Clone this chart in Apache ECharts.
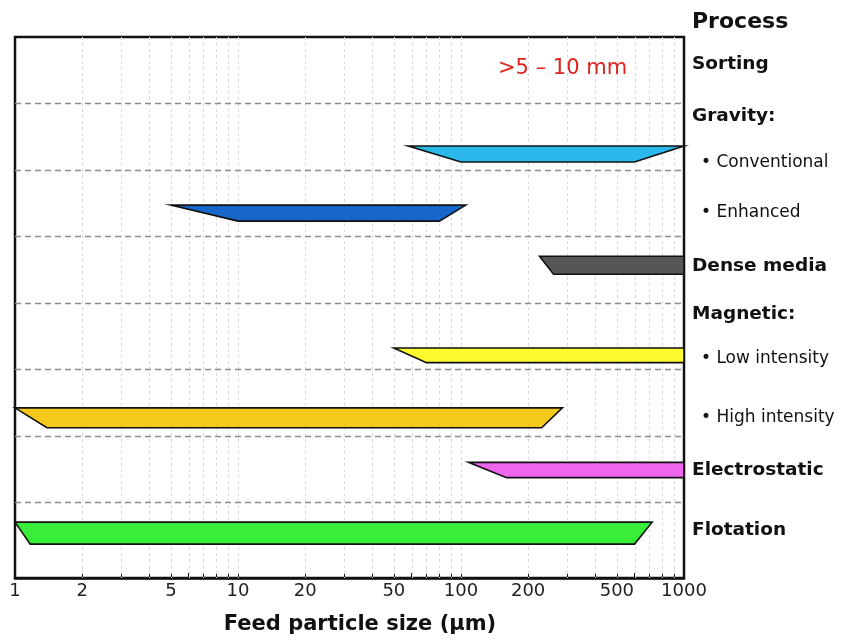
<!DOCTYPE html>
<html>
<head>
<meta charset="utf-8">
<script src="https://cdn.jsdelivr.net/npm/echarts@6/dist/echarts.min.js"></script>
<style>
  html, body { margin: 0; padding: 0; background: #fff; }
  #main { width: 844px; height: 640px; }
</style>
</head>
<body>
<div id="main"></div>
<script>
var FONT = '"DejaVu Sans", Arial, sans-serif';

// x axis (feed particle size, µm)
var xLabels = [1, 2, 5, 10, 20, 50, 100, 200, 500, 1000];
var xTicks = [1, 2, 3, 4, 5, 6, 7, 8, 9, 10, 20, 30, 40, 50, 60, 70, 80, 90,
  100, 200, 300, 400, 500, 600, 700, 800, 900, 1000];
var xGrid = [2, 3, 4, 5, 6, 7, 8, 9, 10, 20, 30, 40, 50, 60, 70, 80, 90,
  100, 200, 300, 400, 500, 600, 700, 800, 900];

// process rows (right hand labels), y in row units from the top
var rowNames = ['Sorting', 'Gravity:', 'Conventional', 'Enhanced', 'Dense media',
  'Magnetic:', 'Low intensity', 'High intensity', 'Electrostatic', 'Flotation'];
var rowBold = [true, true, false, false, true, true, false, false, true, true];
var rowPos = [0.41, 1.185, 1.885, 2.645, 3.445, 4.165, 4.835, 5.725, 6.525, 7.425];
var rowSeparators = [1, 2, 3, 4, 5, 6, 7];

// size range bars: top edge from/to, bottom edge from/to (µm)
var barNames = ['Conventional', 'Enhanced', 'Dense media', 'Low intensity',
  'High intensity', 'Electrostatic', 'Flotation'];
var topFrom = [58, 5, 225, 50, 1, 108, 1];
var topTo = [1000, 105, 1000, 1000, 285, 1000, 720];
var bottomFrom = [100, 10, 260, 70, 1.39, 160, 1.17];
var bottomTo = [600, 80, 1000, 1000, 230, 1000, 600];
var barTop = [1.64, 2.53, 3.3, 4.68, 5.58, 6.4, 7.3];
var barBottom = [1.88, 2.77, 3.57, 4.9, 5.88, 6.63, 7.63];
var barColors = ['#2bb8ea', '#1766c9', '#565656', '#fbfb2e', '#f5c91c', '#ee66ee', '#38ee38'];

var Y_MAX = 8.14;

var chart = echarts.init(document.getElementById('main'));

var barData = barNames.map(function (n, i) {
  return [topFrom[i], topTo[i], bottomFrom[i], bottomTo[i], barTop[i], barBottom[i]];
});

function renderBar(params, api) {
  var t0 = api.coord([api.value(0), api.value(4)]);
  var t1 = api.coord([api.value(1), api.value(4)]);
  var b0 = api.coord([api.value(2), api.value(5)]);
  var b1 = api.coord([api.value(3), api.value(5)]);
  return {
    type: 'polygon',
    shape: { points: [t0, t1, b1, b0] },
    style: {
      fill: barColors[params.dataIndex],
      stroke: '#111',
      lineWidth: 1.6
    }
  };
}

// light vertical grid at the log minor ticks
function renderVLine(params, api) {
  var p0 = api.coord([api.value(0), 0]);
  var p1 = api.coord([api.value(0), Y_MAX]);
  return {
    type: 'line',
    shape: { x1: Math.round(p0[0]) + 0.5, y1: p0[1], x2: Math.round(p1[0]) + 0.5, y2: p1[1] },
    style: { stroke: '#dadada', lineWidth: 1, lineDash: [3, 3] }
  };
}

// dashed separators between the processes
function renderHLine(params, api) {
  var p0 = api.coord([1, api.value(0)]);
  var p1 = api.coord([1000, api.value(0)]);
  return {
    type: 'line',
    shape: { x1: p0[0], y1: Math.round(p0[1]) + 0.5, x2: p1[0], y2: Math.round(p1[1]) + 0.5 },
    style: { stroke: '#8c8c8c', lineWidth: 1.3, lineDash: [6, 4] }
  };
}

var options = {
  backgroundColor: '#fff',
  animation: false,
  title: [{
    text: 'Process',
    left: 692,
    top: 11,
    padding: 0,
    textStyle: { fontFamily: FONT, fontSize: 22, fontWeight: 'bold', color: '#111' }
  }, {
    text: '>5 \u2013 10 mm',
    left: 498,
    top: 58,
    padding: 0,
    textStyle: { fontFamily: FONT, fontSize: 21, fontWeight: 'normal', color: '#e0231d' }
  }],
  grid: {
    left: 15,
    right: 160,
    top: 37,
    bottom: 61,
    show: true,
    borderColor: '#111',
    borderWidth: 2.5,
    containLabel: false
  },
  xAxis: {
    type: 'log',
    logBase: 10,
    min: 1,
    max: 1000,
    name: 'Feed particle size (\u00b5m)',
    nameLocation: 'middle',
    nameGap: 36,
    nameTextStyle: { fontFamily: FONT, fontSize: 21, fontWeight: 'bold', color: '#111', padding: [0, 0, 0, 21] },
    axisLine: { show: true, onZero: false, lineStyle: { color: '#111', width: 2.5 } },
    axisTick: { show: true, inside: true, length: 5, customValues: xTicks, lineStyle: { color: '#111', width: 1 } },
    axisLabel: {
      customValues: xLabels,
      fontFamily: FONT,
      fontSize: 18,
      color: '#222',
      margin: 4,
      formatter: function (v) { return String(Math.round(v)); }
    },
    splitLine: { show: false },
    minorTick: { show: false }
  },
  yAxis: [{
    type: 'value',
    min: 0,
    max: Y_MAX,
    inverse: true,
    axisLine: { show: false },
    axisTick: { show: false },
    axisLabel: { show: false },
    splitLine: { show: false }
  }, {
    type: 'value',
    min: 0,
    max: Y_MAX,
    inverse: true,
    position: 'right',
    axisLine: { show: false },
    axisTick: { show: false },
    splitLine: { show: false },
    axisLabel: {
      customValues: rowPos,
      margin: 8,
      align: 'left',
      formatter: function (v) {
        var idx = -1;
        for (var i = 0; i < rowPos.length; i++) {
          if (Math.abs(rowPos[i] - v) < 0.001) idx = i;
        }
        if (idx < 0) return '';
        return rowBold[idx] ? '{b|' + rowNames[idx] + '}' : '{n|\u2022 ' + rowNames[idx] + '}';
      },
      rich: {
        b: { fontFamily: FONT, fontSize: 18.5, fontWeight: 'bold', color: '#111' },
        n: { fontFamily: FONT, fontSize: 17, color: '#111', padding: [0, 0, 0, 9] }
      }
    }
  }],
  series: [{
    name: 'grid',
    type: 'custom',
    z: 1,
    silent: true,
    renderItem: renderVLine,
    encode: { x: 0 },
    data: xGrid.map(function (v) { return [v]; })
  }, {
    name: 'separators',
    type: 'custom',
    z: 1,
    silent: true,
    renderItem: renderHLine,
    encode: { y: 0 },
    data: rowSeparators.map(function (v) { return [v]; })
  }, {
    name: 'size range',
    type: 'custom',
    z: 3,
    renderItem: renderBar,
    encode: { x: [0, 1, 2, 3], y: [4, 5] },
    data: barData
  }]
};

chart.setOption(options);
</script>
</body>
</html>
